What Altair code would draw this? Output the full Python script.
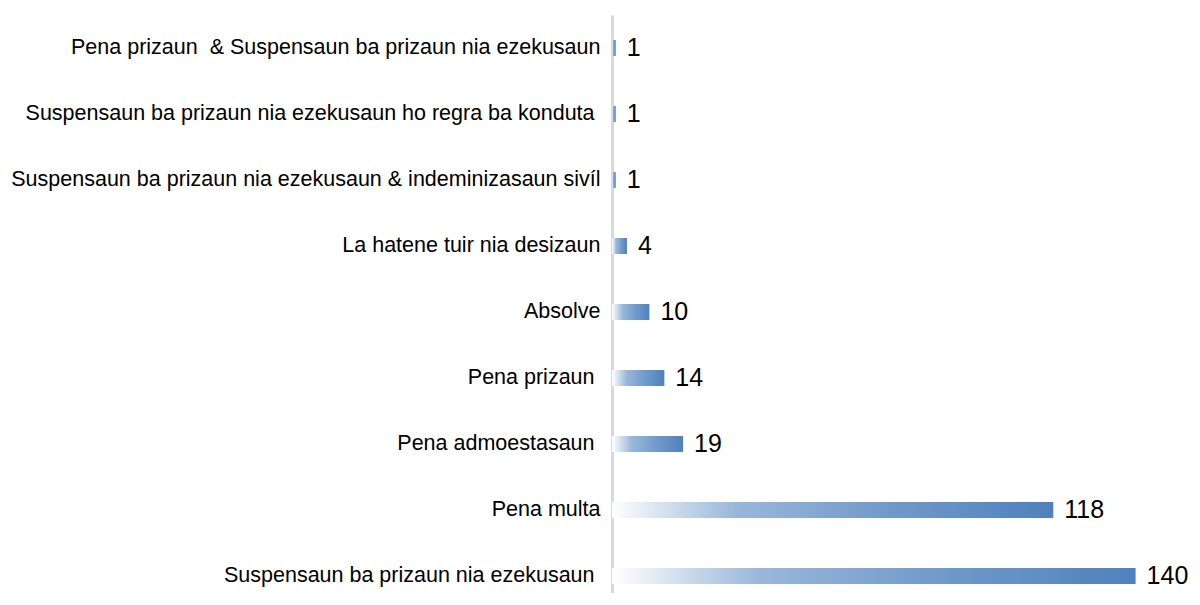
import altair as alt
import pandas as pd

categories = [
    "Pena prizaun  & Suspensaun ba prizaun nia ezekusaun",
    "Suspensaun ba prizaun nia ezekusaun ho regra ba konduta ",
    "Suspensaun ba prizaun nia ezekusaun & indeminizasaun sivíl",
    "La hatene tuir nia desizaun",
    "Absolve",
    "Pena prizaun ",
    "Pena admoestasaun ",
    "Pena multa",
    "Suspensaun ba prizaun nia ezekusaun ",
]
values = [1, 1, 1, 4, 10, 14, 19, 118, 140]

# keep trailing / double spaces visible in SVG text (ZWSP stops trimming)
labels = [
    c.replace("  ", " \u00a0").rstrip(" ") + ("\u00a0\u200b" if c.endswith(" ") else "")
    for c in categories
]

df = pd.DataFrame({"cat": labels, "value": values})

FONT = "Liberation Sans"

y_enc = alt.Y(
    "cat:N",
    sort=labels,
    scale=alt.Scale(range=[0, 594], paddingInner=0, paddingOuter=0),
    axis=alt.Axis(
        title=None,
        domainColor="#d9d9d9",
        domainWidth=3,
        ticks=False,
        labelFont=FONT,
        labelFontSize=21.5,
        labelColor="#000000",
        labelPadding=12,
        labelLimit=1000,
        grid=False,
    ),
)
x_enc = alt.X(
    "value:Q",
    scale=alt.Scale(domain=[0, 150], nice=False),
    axis=None,
)

gradient = alt.Gradient(
    gradient="linear",
    stops=[
        alt.GradientStop(color="#ffffff", offset=0),
        alt.GradientStop(color="#9ab7da", offset=0.28),
        alt.GradientStop(color="#729acb", offset=0.62),
        alt.GradientStop(color="#4f81bd", offset=1),
    ],
    x1=0, x2=1, y1=0, y2=0,
)

bars = alt.Chart(df).mark_bar(size=16, color=gradient).encode(x=x_enc, y=y_enc)
text = alt.Chart(df).mark_text(
    align="left", baseline="middle", dx=11, fontSize=25, font=FONT, color="#000000"
).encode(x=x_enc, y=y_enc, text="value:Q")

chart = (
    alt.layer(bars, text)
    .properties(
        width=561,
        height=578,
        autosize=alt.AutoSizeParams(type="none"),
        padding={"left": 604, "top": 7, "right": 19, "bottom": 0},
        background="#ffffff",
    )
    .configure_view(stroke=None)
)

chart.save("out.html", embed_options={"renderer": "svg", "actions": False})
